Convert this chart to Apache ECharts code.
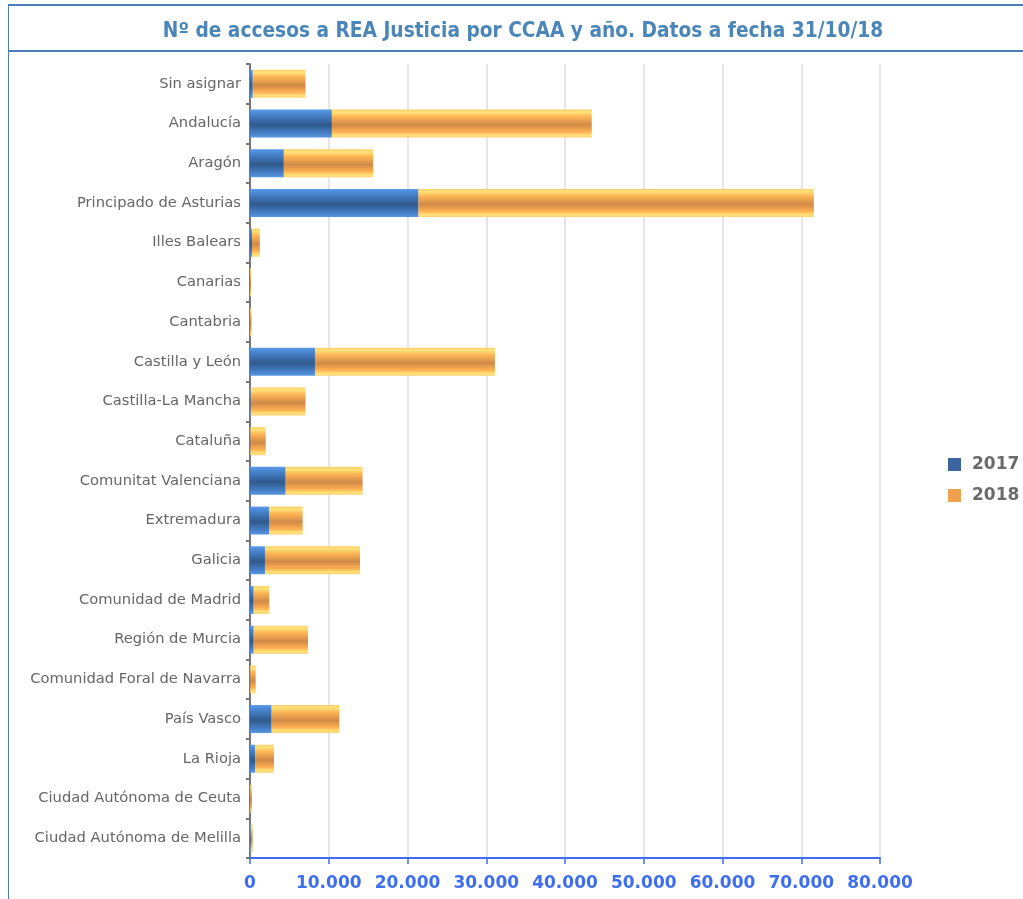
<!DOCTYPE html>
<html>
<head>
<meta charset="utf-8">
<script src="https://cdn.jsdelivr.net/npm/echarts@6/dist/echarts.min.js"></script>
<style>
html,body{margin:0;padding:0;background:#fff;}
#chart{width:1023px;height:899px;}
</style>
</head>
<body>
<div id="chart"></div>
<script>
const categories = ["Sin asignar","Andalucía","Aragón","Principado de Asturias","Illes Balears","Canarias","Cantabria","Castilla y León","Castilla-La Mancha","Cataluña","Comunitat Valenciana","Extremadura","Galicia","Comunidad de Madrid","Región de Murcia","Comunidad Foral de Navarra","País Vasco","La Rioja","Ciudad Autónoma de Ceuta","Ciudad Autónoma de Melilla"];
const values2017 = [350,10400,4300,21400,250,10,20,8250,100,50,4530,2410,1900,470,470,30,2750,630,20,100];
const values2018 = [6700,33000,11350,50200,1000,120,180,22850,6950,1950,9770,4280,12070,1980,6900,690,8600,2420,230,240];
const xTicks = [0,10000,20000,30000,40000,50000,60000,70000,80000];

const chart = echarts.init(document.getElementById('chart'));
const blueGrad = new echarts.graphic.LinearGradient(0,0,0,1,[
  {offset:0,color:'#5a9ae6'},{offset:0.15,color:'#4a86d2'},{offset:0.55,color:'#2f5a8c'},{offset:0.85,color:'#4680c8'},{offset:1,color:'#5a98e2'}]);
const orangeGrad = new echarts.graphic.LinearGradient(0,0,0,1,[
  {offset:0,color:'#ffd068'},{offset:0.1,color:'#ffe27a'},{offset:0.25,color:'#ffb655'},{offset:0.55,color:'#d08a48'},{offset:0.8,color:'#ffb050'},{offset:0.92,color:'#ffe27a'},{offset:1,color:'#ffd070'}]);

chart.setOption({
  animation:false,
  backgroundColor:'#fff',
  title:{text:'Nº de accesos a REA Justicia por CCAA y año. Datos a fecha 31/10/18',left:518,textAlign:'center',top:16,
    textStyle:{fontFamily:'DejaVu Sans Condensed',fontWeight:'bold',fontSize:20.7,color:'#4a86b8'}},
  graphic:[
    {type:'rect',shape:{x:8,y:4,width:1015,height:2},style:{fill:'#4a80b8'},z:10},
    {type:'rect',shape:{x:8,y:50,width:1015,height:2},style:{fill:'#4a80b8'},z:10},
    {type:'rect',shape:{x:8,y:4,width:1,height:895},style:{fill:'#4a80b8'},z:10}
  ],
  legend:{orient:'vertical',left:943,top:451,itemWidth:13,itemHeight:13,itemGap:14,icon:'rect',
    textStyle:{fontFamily:'DejaVu Sans',fontWeight:'bold',fontSize:17,color:'#6a6a6a',padding:[0,0,0,6]},
    data:[{name:'2017',itemStyle:{color:'#3a65a0'}},{name:'2018',itemStyle:{color:'#f0a150'}}]},
  grid:{left:250,right:143,top:64,bottom:41,containLabel:false},
  xAxis:{type:'value',min:0,max:80000,interval:10000,
    axisLine:{show:true,lineStyle:{color:'#3d6ef0',width:2}},
    axisTick:{show:true,length:6,lineStyle:{color:'#3d6ef0',width:1.5}},
    splitLine:{show:true,lineStyle:{color:'#e6e6e6',width:2}},
    axisLabel:{margin:17,fontFamily:'DejaVu Sans',fontWeight:'bold',fontSize:17,color:'#3d6ef0',
      formatter:v=>xTicks.includes(v)?v.toLocaleString('de-DE'):''}},
  yAxis:{type:'category',inverse:true,data:categories,
    axisLine:{show:true,lineStyle:{color:'#777',width:2}},
    axisTick:{show:true,length:4,lineStyle:{color:'#777',width:2}},
    axisLabel:{margin:9,fontFamily:'DejaVu Sans',fontSize:14.7,color:'#666'}},
  series:[
    {name:'2017',type:'bar',stack:'t',data:values2017,barWidth:28,itemStyle:{color:blueGrad}},
    {name:'2018',type:'bar',stack:'t',data:values2018,barWidth:28,itemStyle:{color:orangeGrad}}
  ]
});
</script>
</body>
</html>
